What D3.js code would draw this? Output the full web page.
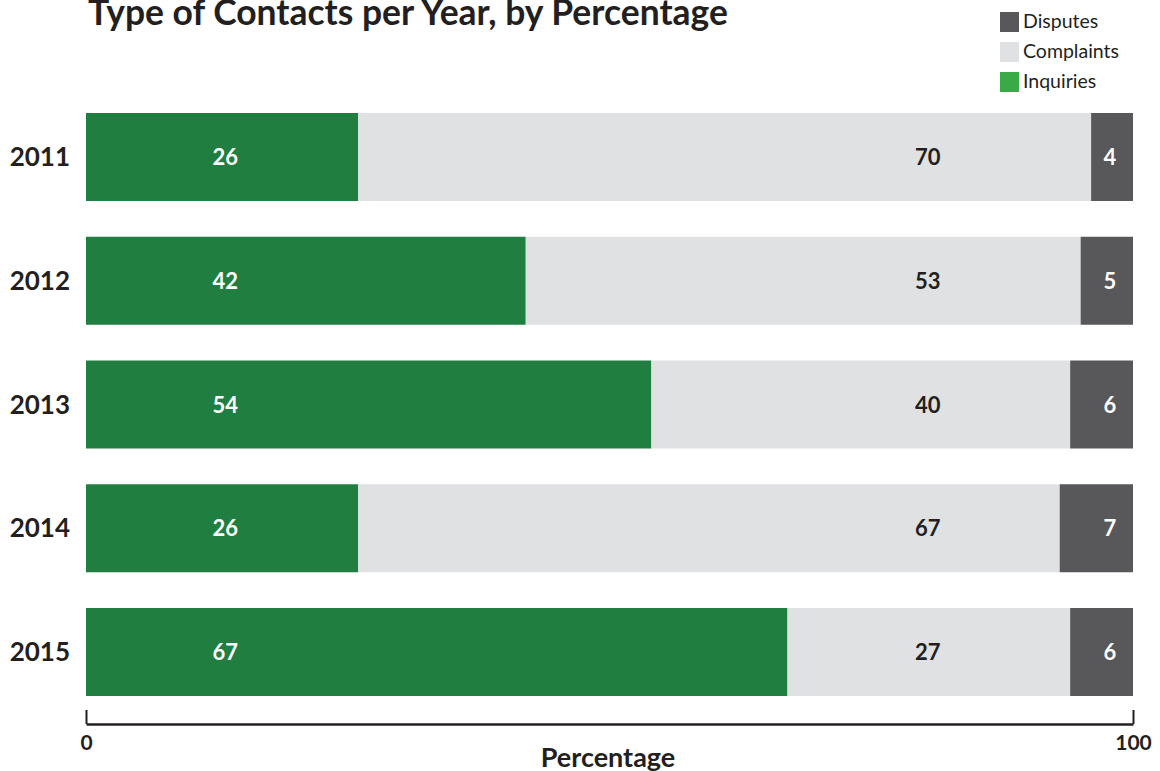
<!DOCTYPE html>
<html>
<head>
<meta charset="utf-8">
<script src="https://cdn.jsdelivr.net/npm/d3@7"></script>
<style>
  html, body { margin: 0; padding: 0; background: #ffffff; }
  svg { display: block; font-family: Lato, "Open Sans", "DejaVu Sans", sans-serif; }
</style>
</head>
<body>
<svg id="chart" width="1160" height="771"></svg>
<script>
// Years shown on the vertical axis
const years = ["2011", "2012", "2013", "2014", "2015"];
// Share of contacts (percent) for each year
const inquiries  = [26, 42, 54, 26, 67];
const complaints = [70, 53, 40, 67, 27];
const disputes   = [4, 5, 6, 7, 6];
// Series names, in stacking order left to right
const seriesNames = ["Inquiries", "Complaints", "Disputes"];
// Axis tick labels
const xTicks = [0, 100];

const svg = d3.select("#chart");

const colors = {
  Inquiries: "#1f7e40",
  Complaints: "#e0e1e3",
  Disputes: "#58585a"
};
const legendColors = {
  Inquiries: "#3aaa48",
  Complaints: "#e0e1e3",
  Disputes: "#58585a"
};
const labelColors = {
  Inquiries: "#ffffff",
  Complaints: "#231f20",
  Disputes: "#ffffff"
};
const ink = "#231f20";

// Fixed label columns (in percent units along the x axis)
const labelCols = { Inquiries: 13.3, Complaints: 80.4, Disputes: 97.8 };

const x = d3.scaleLinear().domain([0, 100]).range([86, 1133]);
const y = d3.scaleBand().domain(years).range([113, 696])
  .paddingInner(0.289).paddingOuter(0);

// shrink/grow a text so that it spans the given width
function fitWidth(sel, base, width) {
  const w = sel.node().getComputedTextLength();
  sel.attr("font-size", base * width / w);
}

// Build stacked table
const table = years.map((yr, i) => ({
  year: yr,
  Inquiries: inquiries[i],
  Complaints: complaints[i],
  Disputes: disputes[i]
}));
const stacked = d3.stack().keys(seriesNames)(table);

// Bars
const layers = svg.append("g").selectAll("g")
  .data(stacked).join("g")
  .attr("fill", d => colors[d.key]);

layers.selectAll("rect")
  .data(d => d.map(v => ({ key: d.key, v })))
  .join("rect")
  .attr("x", d => x(d.v[0]))
  .attr("y", d => y(d.v.data.year))
  .attr("width", d => x(d.v[1]) - x(d.v[0]))
  .attr("height", y.bandwidth());

// Value labels
layers.each(function (layer) {
  d3.select(this).selectAll("text")
    .data(layer.map(v => ({ key: layer.key, v })))
    .join("text")
    .attr("x", x(labelCols[layer.key]))
    .attr("y", d => y(d.v.data.year) + y.bandwidth() / 2 + 8)
    .attr("text-anchor", "middle")
    .attr("fill", labelColors[layer.key])
    .attr("font-size", 22)
    .attr("font-weight", 700)
    .text(d => d.v.data[layer.key]);
});

// Year labels
svg.append("g").selectAll("text")
  .data(years).join("text")
  .attr("x", 70)
  .attr("y", d => y(d) + y.bandwidth() / 2 + 9)
  .attr("text-anchor", "end")
  .attr("fill", ink)
  .attr("font-size", 26)
  .attr("font-weight", 700)
  .text(d => d);

// X axis: baseline with upward end ticks, labels below
const axis = d3.axisBottom(x)
  .tickValues(xTicks)
  .tickSizeInner(-14)
  .tickSizeOuter(0)
  .tickFormat(d3.format("d"));

const gx = svg.append("g")
  .attr("transform", "translate(0,724)")
  .call(axis);
gx.select(".domain").attr("stroke", ink).attr("stroke-width", 2.5);
gx.selectAll(".tick line").attr("stroke", ink).attr("stroke-width", 2);
gx.selectAll(".tick text")
  .attr("y", 26)
  .attr("dy", 0)
  .attr("fill", ink)
  .attr("font-size", 21)
  .attr("font-weight", 700)
  .attr("font-family", "Lato, sans-serif");

// Axis title
svg.append("text")
  .attr("x", 608)
  .attr("y", 767)
  .attr("text-anchor", "middle")
  .attr("fill", ink)
  .attr("font-size", 27)
  .attr("font-weight", 700)
  .text("Percentage");

// Chart title
const title = svg.append("text")
  .attr("x", 88)
  .attr("y", 25)
  .attr("fill", ink)
  .attr("font-size", 32)
  .attr("font-weight", 700)
  .text("Type of Contacts per Year, by Percentage");
fitWidth(title, 32, 640);

// Legend (top to bottom: Disputes, Complaints, Inquiries)
const legendOrder = seriesNames.slice().reverse();
const lg = svg.append("g").attr("transform", "translate(1000,12)");
const items = lg.selectAll("g").data(legendOrder).join("g")
  .attr("transform", (d, i) => `translate(0,${i * 30})`);
items.append("rect")
  .attr("width", 19).attr("height", 20)
  .attr("fill", d => legendColors[d]);
items.append("text")
  .attr("x", 23).attr("y", 16)
  .attr("fill", ink)
  .attr("font-size", 19.5)
  .text(d => d);
</script>
</body>
</html>
